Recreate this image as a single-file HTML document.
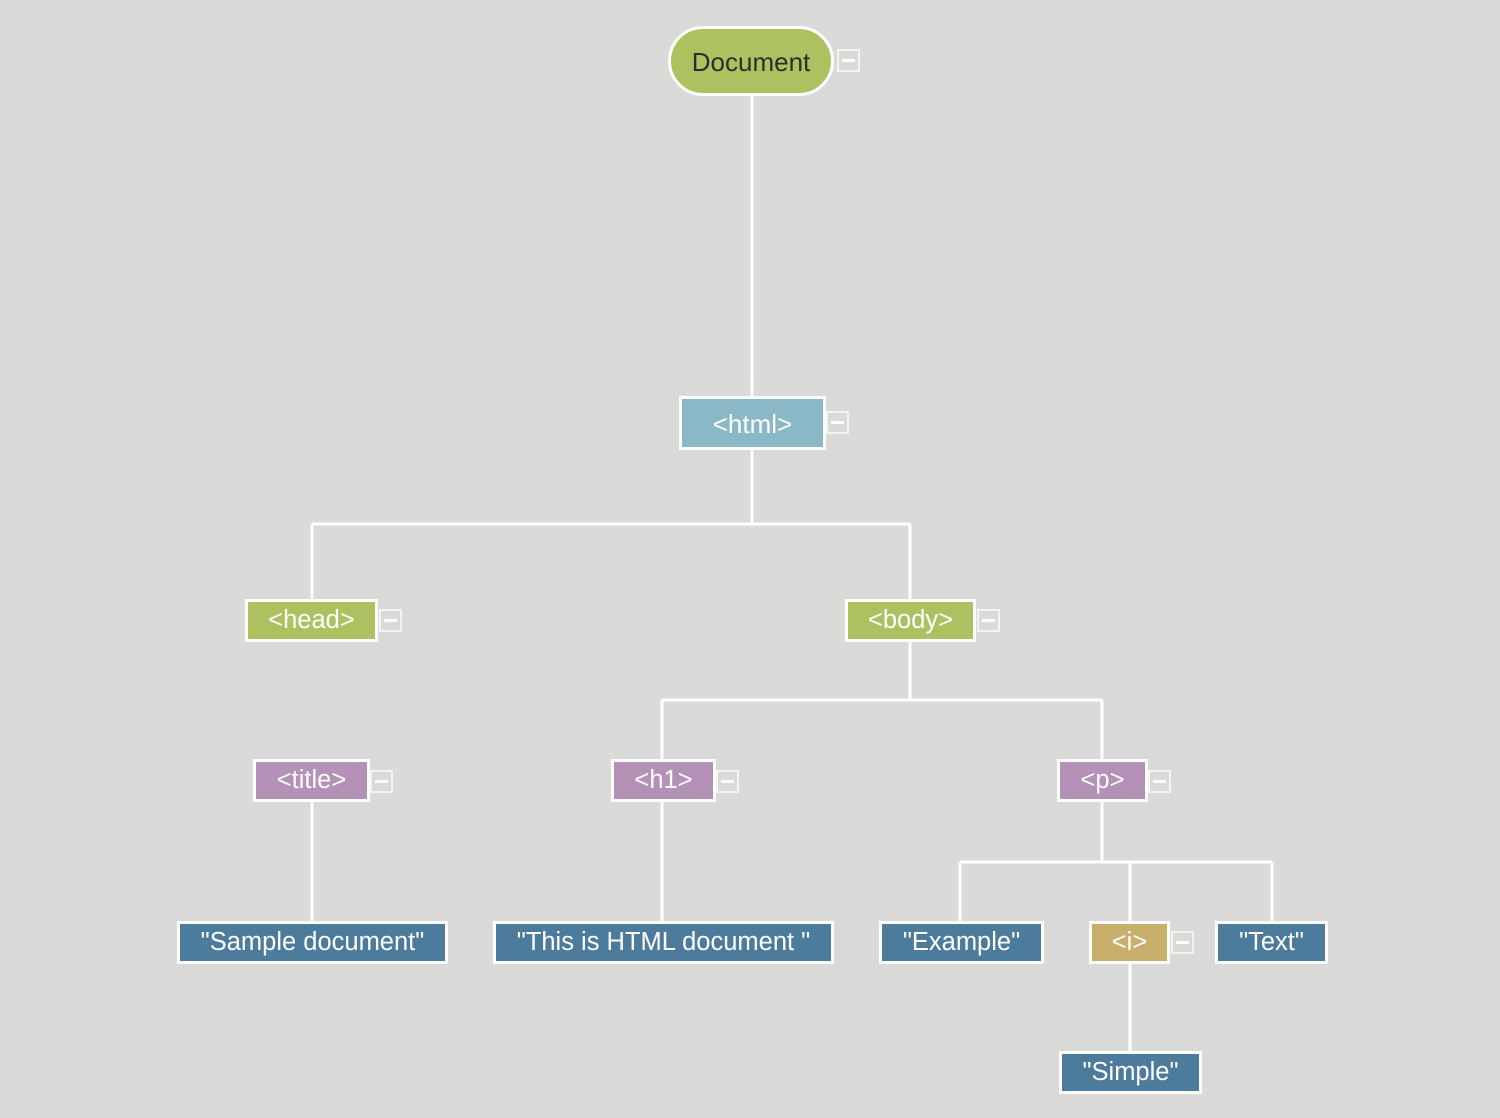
<!DOCTYPE html>
<html><head><meta charset="utf-8"><style>
html,body{margin:0;padding:0}
body{width:1500px;height:1118px;background:#dadad8;position:relative;overflow:hidden;font-family:"Liberation Sans",sans-serif}
.n{position:absolute;box-sizing:border-box;border:3px solid #fff;color:#fff;font-size:25.5px;display:flex;align-items:center;justify-content:center;white-space:nowrap}
.m{position:absolute;box-sizing:border-box;width:23px;height:23px;border:2px solid #f4f4f2}
.m::after{content:"";position:absolute;left:3px;right:3px;top:8px;height:3px;background:#fff}
.g{background:#adc160}.b{background:#8ab8c7}.p{background:#b491b6}.d{background:#4d7b9b}.y{background:#c8b06c}
</style></head><body>
<svg width="1500" height="1118" style="position:absolute;left:0;top:0" fill="none" stroke="#fff" stroke-width="3">
<path d="M752 95V396M752 449V524M312 524H910M312 524V600M910 524V600M910 641V700M662 700H1102M662 700V760M1102 700V760M312 801V922M662 801V922M1102 801V862M960 862H1272M960 862V922M1130 862V922M1272 862V922M1130 963V1052"/>
</svg>
<div class="n g" style="left:668px;top:26px;width:166px;height:70px;border-radius:35px;color:#2d2d2d;font-size:26px;padding-top:2px">Document</div>
<div class="m" style="left:837px;top:49px"></div>
<div class="n b" style="left:679px;top:396px;width:147px;height:54px;font-size:26px;padding-top:2px">&lt;html&gt;</div>
<div class="m" style="left:826px;top:411px"></div>
<div class="n g" style="left:245px;top:599px;width:133px;height:43px">&lt;head&gt;</div>
<div class="m" style="left:379px;top:609px"></div>
<div class="n g" style="left:845px;top:599px;width:131px;height:43px">&lt;body&gt;</div>
<div class="m" style="left:977px;top:609px"></div>
<div class="n p" style="left:253px;top:759px;width:117px;height:43px">&lt;title&gt;</div>
<div class="m" style="left:370px;top:770px"></div>
<div class="n p" style="left:611px;top:759px;width:105px;height:43px">&lt;h1&gt;</div>
<div class="m" style="left:716px;top:770px"></div>
<div class="n p" style="left:1057px;top:759px;width:91px;height:43px">&lt;p&gt;</div>
<div class="m" style="left:1148px;top:770px"></div>
<div class="n d" style="left:177px;top:921px;width:271px;height:43px">"Sample document"</div>
<div class="n d" style="left:493px;top:921px;width:341px;height:43px">"This is HTML document "</div>
<div class="n d" style="left:879px;top:921px;width:165px;height:43px">"Example"</div>
<div class="n y" style="left:1089px;top:921px;width:81px;height:43px">&lt;i&gt;</div>
<div class="m" style="left:1171px;top:931px"></div>
<div class="n d" style="left:1215px;top:921px;width:113px;height:43px">"Text"</div>
<div class="n d" style="left:1059px;top:1051px;width:143px;height:43px">"Simple"</div>
</body></html>
